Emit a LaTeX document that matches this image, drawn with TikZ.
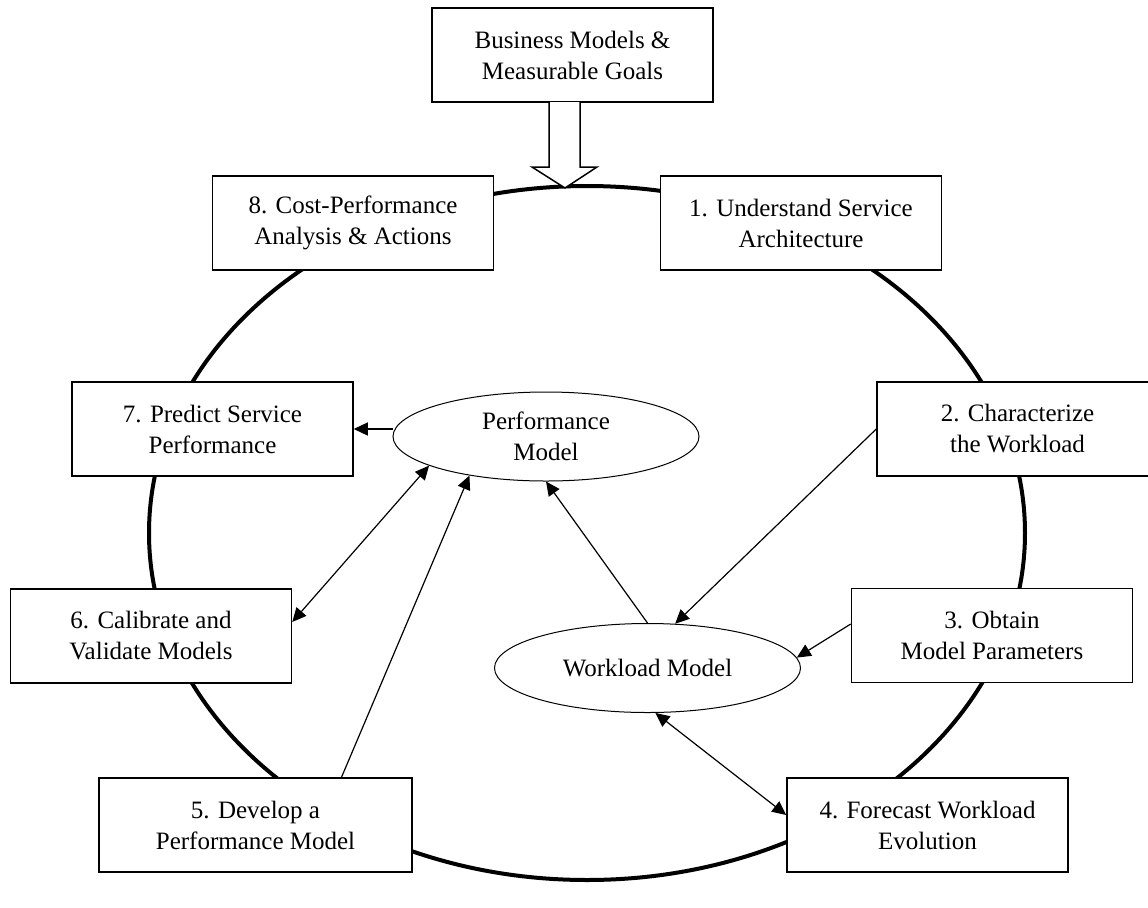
\documentclass[tikz,border=0pt]{standalone}
\usepackage{fontspec}
\setmainfont{Liberation Serif}
\usetikzlibrary{arrows.meta, shapes.geometric}

\begin{document}
\begin{tikzpicture}[
    x=0.5pt, y=-0.5pt,
    box/.style={rectangle, draw, line width=0.75pt, fill=white, minimum width=140.5pt, minimum height=47pt, align=center, inner sep=2pt, font=\fontsize{12.5}{15.5}\selectfont},
    model/.style={ellipse, draw, line width=0.5pt, fill=white, minimum width=153pt, minimum height=44.5pt, align=center, inner sep=1pt, font=\fontsize{12.5}{15.5}\selectfont},
    ring/.style={line width=2pt},
    hollow/.style={draw, line width=0.75pt, fill=white, line join=miter},
    arrow/.style={-{Triangle[length=7pt, width=6.5pt]}, line width=0.6pt},
    twoway/.style={{Triangle[length=7pt, width=6.5pt]}-{Triangle[length=7pt, width=6.5pt]}, line width=0.6pt}
]
\useasboundingbox (0,0) rectangle (1148,907);

% Cycle
\draw[ring] (587,533) ellipse [x radius=219pt, y radius=173.5pt];

% Goals on top
\node[box] (goals) at (572.5,55) {Business Models \&\\Measurable Goals};
\coordinate (tip) at (565,188);
\draw[hollow] (549,102) -- (549,167) -- (532,167) -- (tip) -- (597,167) -- (580,167) -- (580,102);

% Steps round the cycle
\node[box] (b1) at (801,223) {1. Understand Service\\Architecture};
\node[box] (b2) at (1017.5,429) {2. Characterize\\the Workload};
\node[box] (b3) at (992,635.5) {3. Obtain\\Model Parameters};
\node[box] (b4) at (927.5,825) {4. Forecast Workload\\Evolution};
\node[box, minimum width=156.5pt] (b5) at (255.5,825) {5. Develop a\\Performance Model};
\node[box] (b6) at (151,636) {6. Calibrate and\\Validate Models};
\node[box] (b7) at (212.5,429) {7. Predict Service\\Performance};
\node[box] (b8) at (353,223) {8. Cost-Performance\\Analysis \& Actions};

% Models
\node[model] (perf) at (546,436.5) {Performance\\Model};
\node[model] (work) at (647.5,668) {Workload Model};

% Connectors
\draw[arrow] (b2.west) -- (work.58);
\draw[arrow] ([yshift=5.75pt]b3.west) -- (work.4);
\draw[twoway] (work.-80) -- ([yshift=5pt]b4.west);
\draw[arrow] (work.north) -- (perf.south);
\draw[arrow] ([xshift=43pt]b5.north) -- (perf.207);
\draw[twoway] ([yshift=7pt]b6.east) -- (perf.194);
\draw[arrow] (perf.west |- b7) -- (b7.east);

\end{tikzpicture}
\end{document}
